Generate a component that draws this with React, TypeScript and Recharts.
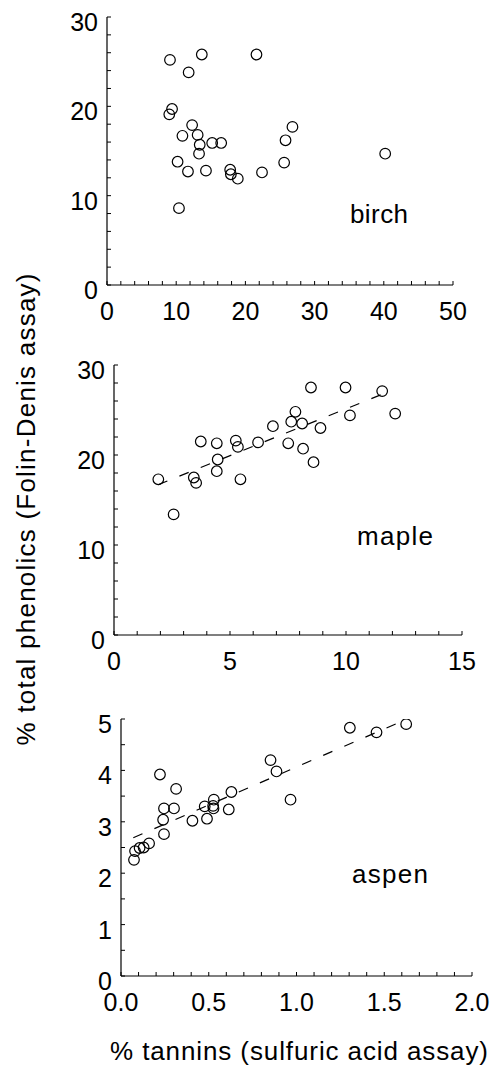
import React from 'react';
import { ScatterChart, Scatter, XAxis, YAxis, ReferenceLine } from 'recharts';

const FONT = '"Liberation Sans", Arial, Helvetica, sans-serif';

// ---- birch ----
const birchX = [9.1, 13.7, 21.6, 11.8, 9.4, 9.0, 12.3, 26.8, 10.9, 13.1, 13.4, 15.2, 16.5, 25.8, 13.3, 40.2, 10.2, 25.6, 11.7, 14.3, 17.8, 17.9, 18.9, 22.4, 10.4];
const birchY = [25.2, 25.8, 25.8, 23.8, 19.7, 19.1, 17.9, 17.7, 16.7, 16.8, 15.7, 15.9, 15.9, 16.2, 14.7, 14.7, 13.8, 13.7, 12.7, 12.8, 12.9, 12.4, 11.9, 12.6, 8.6];
const birchXTicks = [0, 2, 4, 6, 8, 10, 12, 14, 16, 18, 20, 22, 24, 26, 28, 30, 32, 34, 36, 38, 40, 42, 44, 46, 48, 50];
const birchYTicks = [0, 2, 4, 6, 8, 10, 12, 14, 16, 18, 20, 22, 24, 26, 28, 30];
const birchXLabels = [0, 10, 20, 30, 40, 50];
const birchYLabels = [0, 10, 20, 30];

// ---- maple ----
const mapleX = [1.91, 2.57, 3.44, 3.54, 3.74, 4.43, 4.47, 4.43, 5.25, 5.34, 5.45, 6.21, 6.85, 7.51, 7.64, 7.82, 8.11, 8.15, 8.49, 8.60, 8.90, 9.98, 10.17, 11.56, 12.12];
const mapleY = [17.3, 13.4, 17.5, 16.9, 21.5, 21.3, 19.5, 18.2, 21.6, 20.9, 17.3, 21.4, 23.2, 21.3, 23.7, 24.8, 23.5, 20.7, 27.5, 19.2, 23.0, 27.5, 24.4, 27.1, 24.6];
const mapleTrendX = [1.9, 11.7];
const mapleTrendY = [16.7, 26.9];
const mapleXTicks = [0, 1, 2, 3, 4, 5, 6, 7, 8, 9, 10, 11, 12, 13, 14, 15];
const mapleYTicks = [0, 2, 4, 6, 8, 10, 12, 14, 16, 18, 20, 22, 24, 26, 28, 30];
const mapleXLabels = [0, 5, 10, 15];
const mapleYLabels = [0, 10, 20, 30];

// ---- aspen ----
const aspenX = [0.074, 0.080, 0.106, 0.129, 0.160, 0.222, 0.240, 0.245, 0.245, 0.302, 0.314, 0.407, 0.477, 0.490, 0.529, 0.525, 0.527, 0.614, 0.629, 0.852, 0.886, 0.966, 1.304, 1.456, 1.625];
const aspenY = [2.26, 2.43, 2.49, 2.50, 2.58, 3.92, 3.04, 3.26, 2.76, 3.26, 3.64, 3.02, 3.30, 3.06, 3.43, 3.31, 3.26, 3.24, 3.58, 4.20, 3.98, 3.43, 4.83, 4.74, 4.90];
const aspenTrendX = [0.07, 1.61];
const aspenTrendY = [2.69, 4.97];
const aspenXTicks = [0, 0.1, 0.2, 0.3, 0.4, 0.5, 0.6, 0.7, 0.8, 0.9, 1.0, 1.1, 1.2, 1.3, 1.4, 1.5, 1.6, 1.7, 1.8, 1.9, 2.0];
const aspenYTicks = [0, 0.5, 1, 1.5, 2, 2.5, 3, 3.5, 4, 4.5, 5];
const aspenXLabels = [0, 0.5, 1.0, 1.5, 2.0];
const aspenYLabels = [0, 1, 2, 3, 4, 5];

const toPoints = (xs: number[], ys: number[]) => xs.map((x, i) => ({ x, y: ys[i] }));

const TICK = 4;
const TICK_FS = 25;

const makeXTick = (labels: number[], fmt: (v: number) => string) => (props: any) => {
  const { x, y, payload } = props;
  const v = payload.value;
  const isLabel = labels.some((l) => Math.abs(l - v) < 1e-6);
  return (
    <g>
      <line x1={x} x2={x} y1={y} y2={y - TICK} stroke="#000" strokeWidth={1} />
      {isLabel && (
        <text x={x} y={y + 35} textAnchor="middle" fontSize={TICK_FS} fontFamily={FONT} fill="#000">
          {fmt(v)}
        </text>
      )}
    </g>
  );
};

const makeYTick = (labels: number[], fmt: (v: number) => string) => (props: any) => {
  const { x, y, payload } = props;
  const v = payload.value;
  const isLabel = labels.some((l) => Math.abs(l - v) < 1e-6);
  return (
    <g>
      <line x1={x} x2={x + TICK} y1={y} y2={y} stroke="#000" strokeWidth={1} />
      {isLabel && (
        <text x={x - 9} y={y + 14} textAnchor="end" fontSize={TICK_FS} fontFamily={FONT} fill="#000">
          {fmt(v)}
        </text>
      )}
    </g>
  );
};

const circleShape = (p: any) => (
  <circle cx={p.cx} cy={p.cy} r={5.3} fill="none" stroke="#000" strokeWidth={1.2} />
);

const intFmt = (v: number) => String(v);
const oneDec = (v: number) => v.toFixed(1);

type PanelProps = {
  top: number;
  height: number;
  margin: { top: number; right: number; bottom: number; left: number };
  data: { x: number; y: number }[];
  xDomain: [number, number];
  yDomain: [number, number];
  xTicks: number[];
  yTicks: number[];
  xLabels: number[];
  yLabels: number[];
  xFmt: (v: number) => string;
  trendX?: number[];
  trendY?: number[];
};

const Panel = (p: PanelProps) => (
  <div style={{ position: 'absolute', left: 0, top: p.top }}>
    <ScatterChart width={495} height={p.height} margin={p.margin}>
      <XAxis
        type="number"
        dataKey="x"
        domain={p.xDomain}
        ticks={p.xTicks}
        interval={0}
        tickSize={0}
        tickMargin={0}
        tickLine={false}
        height={30}
        axisLine={{ stroke: '#000', strokeWidth: 1.2 }}
        tick={makeXTick(p.xLabels, p.xFmt)}
        allowDataOverflow
      />
      <YAxis
        type="number"
        dataKey="y"
        domain={p.yDomain}
        ticks={p.yTicks}
        interval={0}
        tickSize={0}
        tickMargin={0}
        tickLine={false}
        width={60}
        axisLine={{ stroke: '#000', strokeWidth: 1.2 }}
        tick={makeYTick(p.yLabels, intFmt)}
        allowDataOverflow
      />
      {p.trendX && p.trendY && (
        <ReferenceLine
          segment={[
            { x: p.trendX[0], y: p.trendY[0] },
            { x: p.trendX[1], y: p.trendY[1] },
          ]}
          stroke="#000"
          strokeWidth={1.2}
          strokeDasharray="10 13"
        />
      )}
      <Scatter data={p.data} shape={circleShape} isAnimationActive={false} />
    </ScatterChart>
  </div>
);

export default function App() {
  return (
    <div style={{ position: 'absolute', left: 0, top: 0, width: 495, height: 1066, background: '#fff' }}>
      <Panel
        top={0}
        height={330}
        margin={{ top: 17, right: 42, bottom: 15, left: 47 }}
        data={toPoints(birchX, birchY)}
        xDomain={[0, 50]}
        yDomain={[0, 30]}
        xTicks={birchXTicks}
        yTicks={birchYTicks}
        xLabels={birchXLabels}
        yLabels={birchYLabels}
        xFmt={intFmt}
      />
      <Panel
        top={330}
        height={350}
        margin={{ top: 35, right: 33, bottom: 15, left: 54 }}
        data={toPoints(mapleX, mapleY)}
        xDomain={[0, 15]}
        yDomain={[0, 30]}
        xTicks={mapleXTicks}
        yTicks={mapleYTicks}
        xLabels={mapleXLabels}
        yLabels={mapleYLabels}
        xFmt={intFmt}
        trendX={mapleTrendX}
        trendY={mapleTrendY}
      />
      <Panel
        top={680}
        height={386}
        margin={{ top: 39, right: 23, bottom: 60, left: 61 }}
        data={toPoints(aspenX, aspenY)}
        xDomain={[0, 2]}
        yDomain={[0, 5]}
        xTicks={aspenXTicks}
        yTicks={aspenYTicks}
        xLabels={aspenXLabels}
        yLabels={aspenYLabels}
        xFmt={oneDec}
        trendX={aspenTrendX}
        trendY={aspenTrendY}
      />
      <svg
        width={495}
        height={1066}
        style={{ position: 'absolute', left: 0, top: 0, pointerEvents: 'none' }}
      >
        <g fontFamily={FONT} fill="#000">
          <text x={350} y={223} fontSize={26} textLength={58}>birch</text>
          <text x={357} y={545} fontSize={26} textLength={76}>maple</text>
          <text x={352} y={883} fontSize={26} textLength={76}>aspen</text>
          <text x={110} y={1060} fontSize={26} textLength={378}>% tannins (sulfuric acid assay)</text>
          <text
            transform="translate(35,509.5) rotate(-90)"
            x={0}
            y={0}
            textAnchor="middle"
            fontSize={26}
            textLength={472}
          >
            % total phenolics (Folin-Denis assay)
          </text>
        </g>
      </svg>
    </div>
  );
}
